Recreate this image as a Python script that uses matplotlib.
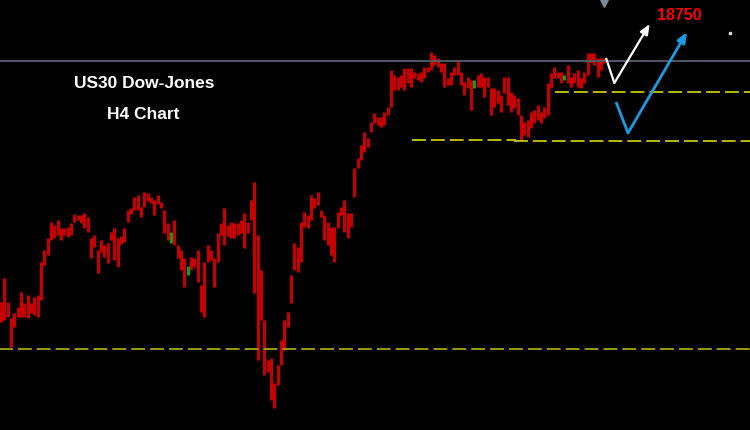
import matplotlib
matplotlib.use("Agg")
import matplotlib.pyplot as plt

# H4 candles, high / low per bar
highs = [15980, 16220, 15980, 15820, 15870, 15930, 16080, 15970, 16050, 15970,
         16030, 16050, 16380, 16500, 16620, 16780, 16750, 16800, 16720, 16720,
         16730, 16770, 16860, 16850, 16850, 16870, 16830, 16620, 16650, 16500,
         16600, 16550, 16570, 16680, 16720, 16620, 16640, 16720, 16900, 16920,
         17030, 17050, 16930, 17080, 17070, 17030, 17000, 17050, 16980, 16900,
         16770, 16680, 16800, 16550, 16500, 16420, 16340, 16430, 16420, 16500,
         16150, 16380, 16550, 16500, 16420, 16670, 16770, 16920, 16750, 16780,
         16770, 16770, 16800, 16870, 16780, 17000, 17180, 16650, 16300, 15800,
         15400, 15420, 15170, 15350, 15600, 15800, 15880, 16250, 16570, 16530,
         16780, 16880, 16850, 17050, 17020, 17080, 16900, 16850, 16780, 16730,
         16730, 16880, 16930, 17000, 16870, 16870, 17320, 17420, 17550, 17680,
         17620, 17780, 17870, 17830, 17830, 17880, 17930, 18300, 18250, 18230,
         18250, 18320, 18320, 18320, 18280, 18270, 18280, 18330, 18330, 18480,
         18450, 18420, 18370, 18370, 18220, 18280, 18330, 18400, 18280, 18180,
         18230, 18200, 18200, 18250, 18270, 18230, 18230, 18120, 18120, 18100,
         18050, 18230, 18230, 18080, 18050, 18020, 17850, 17780, 17800, 17880,
         17900, 17950, 17880, 17930, 18170, 18270, 18330, 18280, 18280, 18250,
         18350, 18230, 18270, 18300, 18220, 18280, 18470, 18470, 18470, 18420,
         18420, 18420]
lows = [15780, 15800, 15830, 15530, 15730, 15830, 15830, 15830, 15820, 15870,
        15850, 15830, 16000, 16350, 16450, 16600, 16620, 16650, 16600, 16650,
        16630, 16650, 16780, 16800, 16770, 16720, 16680, 16420, 16530, 16270,
        16480, 16430, 16370, 16600, 16400, 16330, 16560, 16580, 16780, 16860,
        16900, 16900, 16830, 16930, 16990, 16970, 16850, 16960, 16920, 16670,
        16600, 16570, 16550, 16420, 16300, 16130, 16250, 16300, 16330, 16180,
        15880, 15830, 16380, 16400, 16130, 16380, 16650, 16550, 16640, 16620,
        16620, 16650, 16670, 16520, 16670, 16800, 16070, 15400, 15800, 15250,
        15280, 15000, 14920, 15150, 15350, 15500, 15730, 15970, 16300, 16280,
        16380, 16730, 16720, 16800, 16920, 16950, 16830, 16600, 16550, 16450,
        16380, 16720, 16850, 16680, 16620, 16730, 17030, 17320, 17400, 17480,
        17530, 17680, 17770, 17750, 17730, 17750, 17850, 17930, 18100, 18100,
        18130, 18100, 18170, 18130, 18220, 18200, 18180, 18220, 18280, 18300,
        18350, 18330, 18280, 18130, 18150, 18150, 18250, 18250, 18150, 18050,
        18120, 17900, 18120, 18130, 18130, 18030, 18130, 17850, 17930, 17970,
        17880, 18070, 17950, 17880, 17920, 17850, 17600, 17650, 17630, 17720,
        17770, 17800, 17770, 17820, 17850, 18120, 18220, 18220, 18170, 18200,
        18170, 18130, 18170, 18130, 18120, 18170, 18250, 18380, 18350, 18230,
        18300, 18370]
green_bars = [51, 56, 142, 169]

# levels drawn on the chart
resistance = 18390
support_top = 18080
support_mid = [17600, 17590]
support_low = 15510
target = 18750

# projected paths (bar, price)
white_path = [(181.5, 18420), (184.0, 18170), (194.6, 18760)]
blue_path = [(184.5, 17980), (188.1, 17670), (205.8, 18680)]

bars = list(range(len(highs)))

fig = plt.figure(figsize=(7.5, 4.3), dpi=100, facecolor="black")
ax = fig.add_axes([0, 0, 1, 1])
ax.set_facecolor("black")
ax.set_xlim(-0.3, 224.7)
ax.set_ylim(14700, 19000)
ax.axis("off")

cols = ["#12a012" if i in green_bars else "#c40000" for i in bars]
ax.vlines(bars, lows, highs, colors=cols, linewidth=2.3)

plt.rcParams["lines.scale_dashes"] = False
dash = (0, (10, 3.6))
ax.axhline(resistance, color="#56606c", linewidth=1.3)
ax.hlines(support_low, -1, 226, colors="#a6a614", linewidth=1.3, linestyles=dash)
ax.hlines(support_mid[0], 123.3, 154.5, colors="#c8c800", linewidth=1.3, linestyles=dash)
ax.hlines(support_mid[1], 154.0, 226, colors="#c8c800", linewidth=1.3, linestyles=dash)
ax.hlines(support_top, 166.2, 226, colors="#c8c800", linewidth=1.3, linestyles=dash)

for path, c, lw in [(white_path, "white", 1.6), (blue_path, "#1b9be0", 2.0)]:
    xs = [p[0] for p in path]
    ys = [p[1] for p in path]
    ax.plot(xs[:2], ys[:2], color=c, linewidth=lw, solid_capstyle="butt")
    ax.annotate("", xy=(xs[2], ys[2]), xytext=(xs[1], ys[1]),
                arrowprops=dict(arrowstyle="-|>,head_length=0.6,head_width=0.25",
                                color=c, lw=lw, shrinkA=0, shrinkB=0))

ax.text(203.4, 18850, str(target), color="#ff0000", fontsize=11.5, fontweight="bold",
        family="Liberation Sans", ha="center", va="center")
ax.text(42.9, 18170, "US30 Dow-Jones", color="white", fontsize=12.5, fontweight="bold",
        family="Liberation Sans", ha="center", va="center")
ax.text(42.6, 17860, "H4 Chart", color="white", fontsize=12.5, fontweight="bold",
        family="Liberation Sans", ha="center", va="center")

ax.plot([181.0], [18985], marker="v", color="#7a8898", markersize=7, clip_on=False)
ax.plot([218.7], [18670], marker="s", color="#dddddd", markersize=2)

fig.savefig("out.png", dpi=100, facecolor="black")
